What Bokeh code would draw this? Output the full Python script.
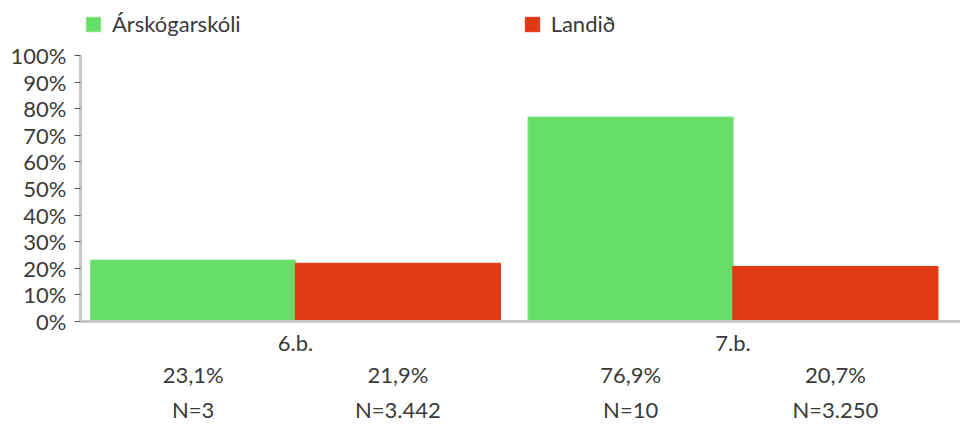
from bokeh.plotting import figure
from bokeh.models import Range1d, FixedTicker, Legend, LegendItem, LinearAxis, ColumnDataSource
from bokeh.embed import file_html
from bokeh.resources import INLINE

categories = ["6.b.", "7.b."]
series_names = ["Árskógarskóli", "Landið"]
series_colors = ["#66DD66", "#E03A14"]
series_edges = ["#84E384", "#E03A14"]
school_values = [23.1, 76.9]
country_values = [21.9, 20.7]
value_labels = [["23,1%", "21,9%"], ["76,9%", "20,7%"]]
n_labels = [["N=3", "N=3.442"], ["N=10", "N=3.250"]]
y_ticks = [0, 10, 20, 30, 40, 50, 60, 70, 80, 90, 100]

FONT = "Lato"
TXT = "#3a3a3a"
FS = "22px"
bar_w = 0.469
offsets = [-0.234, 0.234]

p = figure(width=960, height=430, output_backend="svg", toolbar_location=None,
           x_range=Range1d(-0.4914, 1.52), y_range=Range1d(0, 120.7),
           min_border_left=80, min_border_right=0, min_border_top=0, min_border_bottom=109)
p.outline_line_color = None
p.grid.grid_line_color = None
p.background_fill_color = None
p.border_fill_color = "white"

series = [school_values, country_values]
renderers = []
for si, vals in enumerate(series):
    src = ColumnDataSource(dict(x=[i + offsets[si] for i in range(len(categories))], top=vals))
    r = p.vbar(x="x", top="top", bottom=0, width=bar_w, source=src,
               fill_color=series_colors[si], line_color=series_edges[si], line_width=1)
    renderers.append(r)

# y axis
p.yaxis.ticker = FixedTicker(ticks=y_ticks)
p.yaxis.bounds = (0, 100)
p.yaxis.major_label_overrides = {t: f"{t}%" for t in y_ticks}
p.yaxis.axis_line_color = "#c8c8c8"
p.yaxis.axis_line_width = 3
p.yaxis.major_tick_line_color = "#555555"
p.yaxis.major_tick_out = 6
p.yaxis.major_tick_in = 0
p.yaxis.minor_tick_line_color = None
p.yaxis.major_label_text_font = FONT
p.yaxis.major_label_text_font_size = FS
p.yaxis.major_label_text_color = TXT
p.yaxis.major_label_standoff = 8

# x axis (categories)
def style_x(ax, standoff):
    ax.major_tick_line_color = None
    ax.minor_tick_line_color = None
    ax.major_tick_out = 0
    ax.major_tick_in = 0
    ax.minor_tick_out = 0
    ax.major_label_text_font = FONT
    ax.major_label_text_font_size = FS
    ax.major_label_text_color = TXT
    ax.major_label_standoff = standoff

p.xaxis.ticker = FixedTicker(ticks=list(range(len(categories))))
p.xaxis.major_label_overrides = {i: c for i, c in enumerate(categories)}
p.xaxis.axis_line_color = "#c8c8c8"
p.xaxis.axis_line_width = 3
style_x(p.xaxis[0], 7)

# value and N rows as extra label-only axes under the bars
bar_x = []
vals_over = {}
n_over = {}
for gi in range(len(categories)):
    for si in range(len(series)):
        xc = round(gi + offsets[si], 3)
        bar_x.append(xc)
        vals_over[xc] = value_labels[gi][si]
        n_over[xc] = n_labels[gi][si]

ax_vals = LinearAxis(ticker=FixedTicker(ticks=bar_x), major_label_overrides=vals_over,
                     axis_line_color=None)
style_x(ax_vals, 2)
p.add_layout(ax_vals, "below")
ax_n = LinearAxis(ticker=FixedTicker(ticks=bar_x), major_label_overrides=n_over,
                  axis_line_color=None)
style_x(ax_n, 5)
p.add_layout(ax_n, "below")

legend = Legend(items=[LegendItem(label=series_names[i], renderers=[renderers[i]]) for i in range(2)],
                orientation="horizontal", location=(4, 284),
                glyph_width=18, glyph_height=18, label_standoff=10, spacing=282,
                label_text_font=FONT, label_text_font_size=FS, label_text_color=TXT,
                border_line_color=None, background_fill_alpha=0, padding=6, margin=0)
p.add_layout(legend, "center")

open("out.html", "w").write(file_html(p, INLINE))
